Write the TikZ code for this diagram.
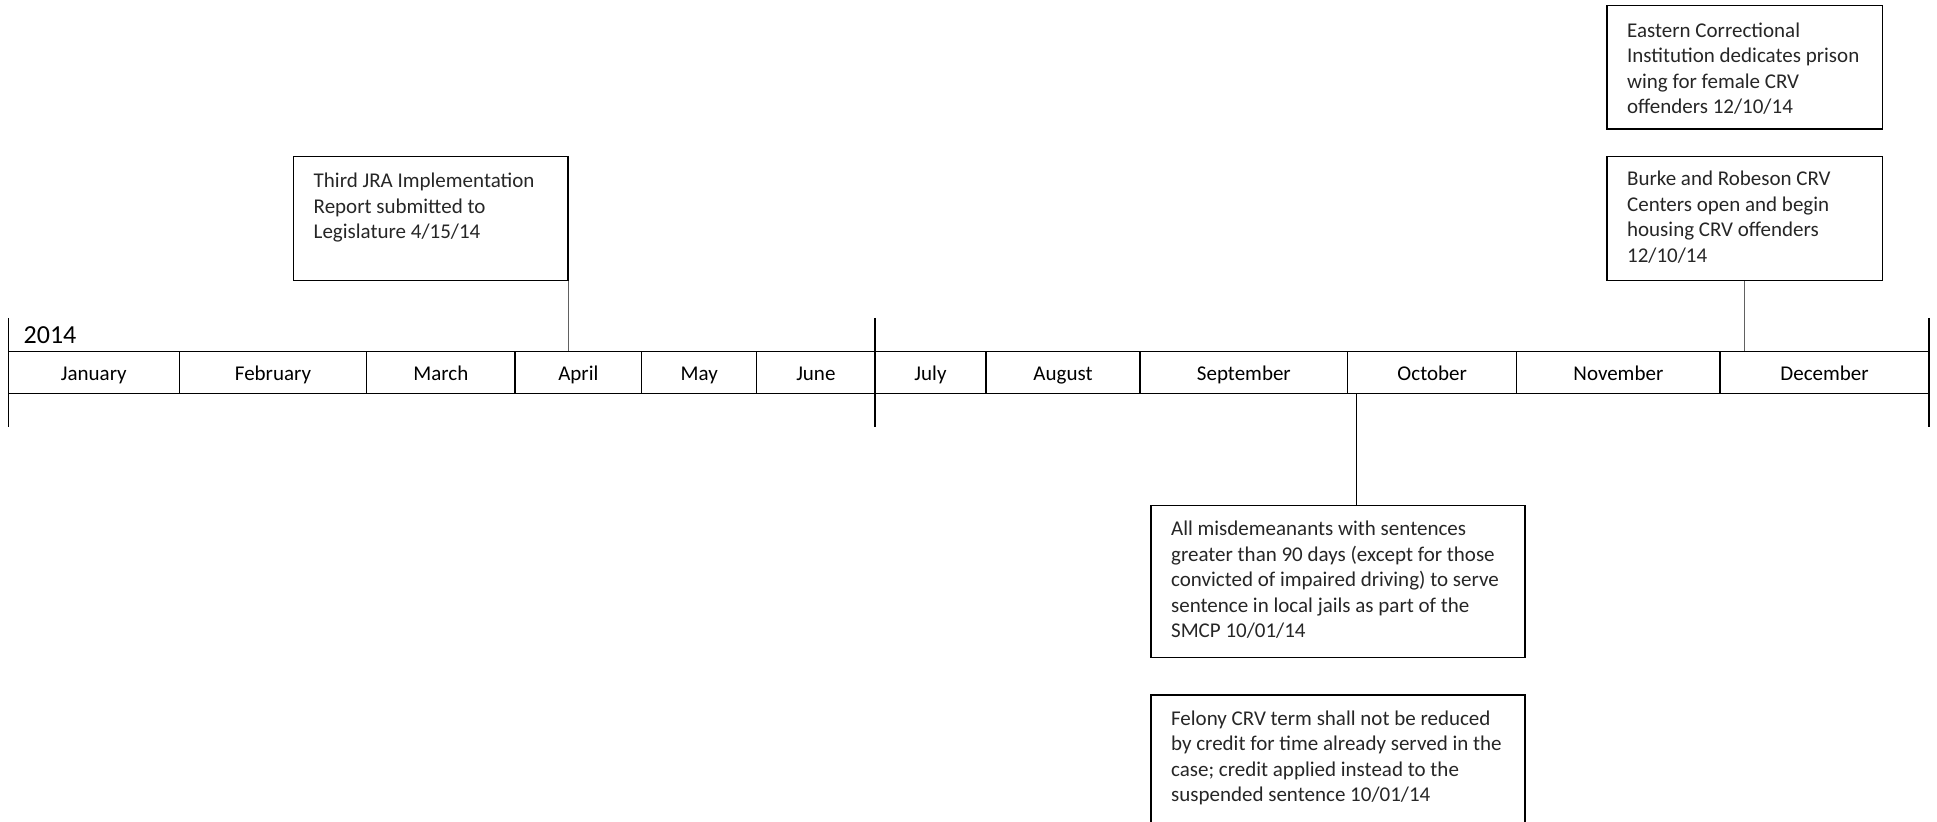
\documentclass[tikz,border=0pt]{standalone}
\usepackage{fontspec}
\setmainfont{Carlito}
\tikzset{
  tl/.style={line width=0.7pt, draw=black},
  box/.style={draw=black, line width=0.75pt, inner sep=0pt, anchor=north west},
  txt/.style={anchor=base west, inner sep=0pt, align=left, text=black!85, font=\fontsize{10.5}{12.75}\selectfont},
  month/.style={anchor=base, inner sep=0pt, font=\fontsize{10.5}{12.6}\selectfont},
  conn/.style={line width=0.5pt, draw=black!62},
  connk/.style={line width=0.42pt, draw=black},
}
\begin{document}
\begin{tikzpicture}[x=0.5pt, y=-0.5pt]
\useasboundingbox (0,0) rectangle (1937,822);
\clip (0,0) rectangle (1937,822);

% timeline frame
\coordinate (tlL) at (8.3,351.3);
\coordinate (tlR) at (1929,351.3);
\coordinate (blL) at (8.3,393.3);
\coordinate (blR) at (1929,393.3);
\draw[tl] (tlL) -- (tlR);
\draw[tl] (blL) -- (blR);
\draw[tl] (8.3,318) -- (8.3,427);
\draw[tl] (875,318) -- (875,427);
\draw[tl] (1929,318) -- (1929,427);

\node[anchor=base west, inner sep=0pt, font=\fontsize{13}{15}\selectfont] (year) at (23.3,343.3) {2014};

\foreach \a/\b/\m [count=\i] in {8.3/179.3/January, 179.3/366.7/February, 366.7/515/March, 515/641.7/April, 641.7/756.7/May, 756.7/875/June, 875/986/July, 986/1140/August, 1140/1347.7/September, 1347.7/1516.7/October, 1516.7/1720/November, 1720/1929/December}{
  \node[month] (m\i) at ({(\a+\b)/2},380.5) {\m};
  \draw[tl] (\b,351.3) -- (\b,393.3);
}

% boxes (text nodes anchored at the baseline of their last line)
\node[box, minimum width=137.3pt, minimum height=62.15pt] (jra) at (292.7,155.7) {};
\node[txt] (jratext) at (313.3,238.7) {Third JRA Implementation\\Report submitted to\\Legislature 4/15/14};

\node[box, minimum width=137.85pt, minimum height=61.65pt] (eastern) at (1606,5) {};
\node[txt] (easterntext) at (1626.7,113.8) {Eastern Correctional\\Institution dedicates prison\\wing for female CRV\\offenders 12/10/14};

\node[box, minimum width=137.85pt, minimum height=62pt] (burke) at (1606,156) {};
\node[txt] (burketext) at (1626.7,262.5) {Burke and Robeson CRV\\Centers open and begin\\housing CRV offenders\\12/10/14};

\node[box, minimum width=187.15pt, minimum height=75.85pt] (mis) at (1150,505) {};
\node[txt] (mistext) at (1170.7,638) {All misdemeanants with sentences\\greater than 90 days (except for those\\convicted of impaired driving) to serve\\sentence in local jails as part of the\\SMCP 10/01/14};

\node[box, minimum width=187.15pt, minimum height=73pt] (fel) at (1150,694) {};
\node[txt] (feltext) at (1170.7,801.5) {Felony CRV term shall not be reduced\\by credit for time already served in the\\case; credit applied instead to the\\suspended sentence 10/01/14};

% connectors
\draw[conn] (jra.south east) -- (jra.south east |- tlL);
\draw[conn] (burke.south) -- (burke.south |- tlL);
\coordinate (octc) at (1356,393.3);
\draw[connk] (octc) -- (octc |- mis.north);
\end{tikzpicture}
\end{document}
